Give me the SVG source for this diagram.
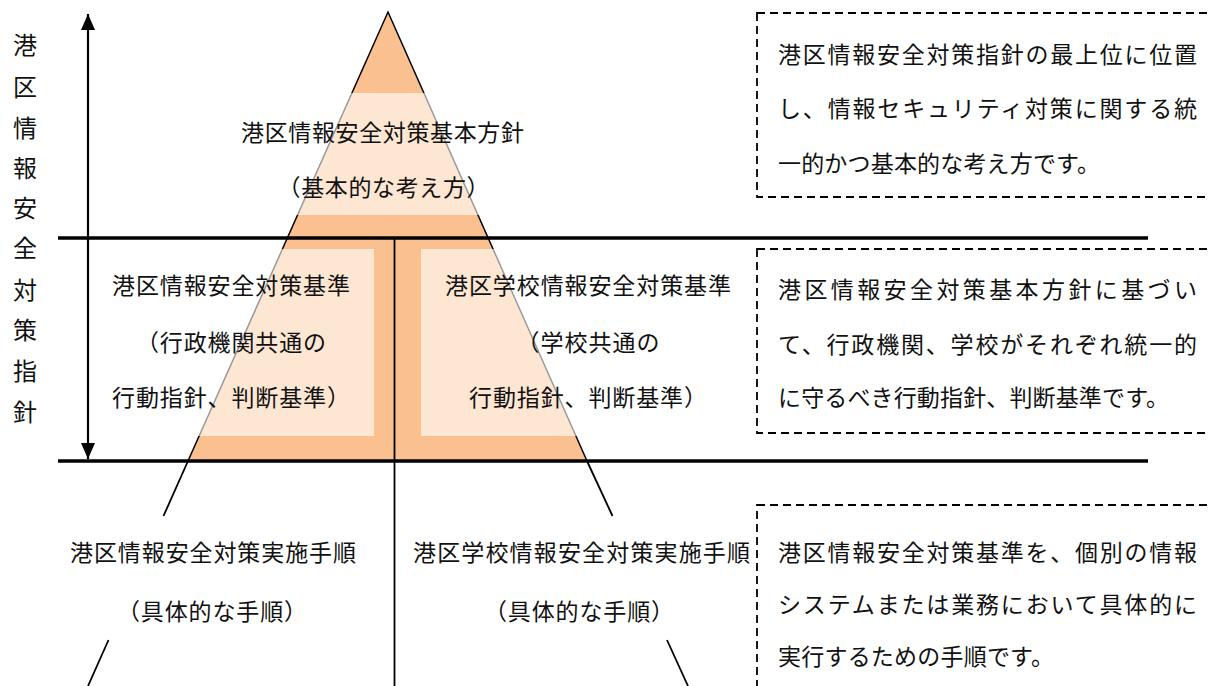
<svg xmlns="http://www.w3.org/2000/svg" width="1210" height="686" viewBox="0 0 1210 686">
<defs>
<style>
text{font-family:"Noto Sans CJK JP","Noto Sans CJK SC",sans-serif;font-size:23px;fill:#111;}
.vt{text-anchor:middle;font-size:24px;}
.band{fill:#FFFFFF;fill-opacity:0.6;}
.rule{stroke:#000;stroke-width:3.5;fill:none;}
.thin{stroke:#000;stroke-width:1.8;fill:none;}
.dash{stroke:#000;stroke-width:1.8;fill:none;stroke-dasharray:8 5;}
</style>
<marker id="ah" viewBox="0 0 16 14" refX="16" refY="7" markerWidth="16" markerHeight="14" markerUnits="userSpaceOnUse" orient="auto-start-reverse">
<path d="M0,0 L16,7 L0,14 Z" fill="#000"/>
</marker>
</defs>
<rect width="1210" height="686" fill="#fff"/>

<g id="pyramid">
<polygon points="388,12 188,461 587,461" fill="#FAC090" stroke="#000" stroke-width="1.5"/>
<rect class="band" x="180" y="93" width="420" height="122"/>
<rect class="band" x="160" y="249" width="214" height="187"/>
<rect class="band" x="421" y="249" width="190" height="187"/>
</g>

<g id="connectors">
<line x1="88" y1="14" x2="88" y2="459" stroke="#000" stroke-width="2.2" marker-start="url(#ah)" marker-end="url(#ah)"/>
<line class="rule" x1="58" y1="238" x2="1148" y2="238"/>
<line class="rule" x1="58" y1="461" x2="1148" y2="461"/>
<line class="thin" x1="394.5" y1="238" x2="394.5" y2="686"/>
<line class="thin" x1="188" y1="461" x2="163.5" y2="516"/>
<line class="thin" x1="108.5" y1="640" x2="88" y2="686"/>
<line class="thin" x1="587" y1="461" x2="612.5" y2="516"/>
<line class="thin" x1="667" y1="640" x2="688" y2="686"/>
</g>

<g id="side-label">
<text class="vt" x="25" y="54">港</text>
<text class="vt" x="25" y="96">区</text>
<text class="vt" x="25" y="137">情</text>
<text class="vt" x="25" y="177">報</text>
<text class="vt" x="25" y="217">安</text>
<text class="vt" x="25" y="257">全</text>
<text class="vt" x="25" y="299">対</text>
<text class="vt" x="25" y="339">策</text>
<text class="vt" x="25" y="380">指</text>
<text class="vt" x="25" y="421">針</text>
</g>

<g id="node-basic-policy">
<text x="241" y="141" textLength="283" lengthAdjust="spacing">港区情報安全対策基本方針</text>
<text x="277.5" y="196" textLength="212" lengthAdjust="spacing">（基本的な考え方）</text>
</g>

<g id="node-standard-admin">
<text x="112" y="294" textLength="238" lengthAdjust="spacing">港区情報安全対策基準</text>
<text x="136" y="351" textLength="190" lengthAdjust="spacing">（行政機関共通の</text>
<text x="112" y="406" textLength="238" lengthAdjust="spacing">行動指針、判断基準）</text>
</g>

<g id="node-standard-school">
<text x="445" y="294" textLength="286" lengthAdjust="spacing">港区学校情報安全対策基準</text>
<text x="516.5" y="351" textLength="143" lengthAdjust="spacing">（学校共通の</text>
<text x="469" y="406" textLength="238" lengthAdjust="spacing">行動指針、判断基準）</text>
</g>

<g id="node-procedure-admin">
<text x="70" y="561" textLength="286" lengthAdjust="spacing">港区情報安全対策実施手順</text>
<text x="117" y="620" textLength="190" lengthAdjust="spacing">（具体的な手順）</text>
</g>

<g id="node-procedure-school">
<text x="413" y="561" textLength="337" lengthAdjust="spacing">港区学校情報安全対策実施手順</text>
<text x="484" y="620" textLength="190" lengthAdjust="spacing">（具体的な手順）</text>
</g>

<g id="note-policy">
<rect class="dash" x="757" y="13" width="470" height="184"/>
<text x="778" y="63" textLength="419" lengthAdjust="spacing">港区情報安全対策指針の最上位に位置</text>
<text x="778" y="117" textLength="419" lengthAdjust="spacing">し、情報セキュリティ対策に関する統</text>
<text x="778" y="172" textLength="322" lengthAdjust="spacing">一的かつ基本的な考え方です。</text>
</g>

<g id="note-standard">
<rect class="dash" x="757" y="249" width="470" height="184"/>
<text x="778" y="298" textLength="419" lengthAdjust="spacing">港区情報安全対策基本方針に基づい</text>
<text x="778" y="353" textLength="419" lengthAdjust="spacing">て、行政機関、学校がそれぞれ統一的</text>
<text x="778" y="406" textLength="391" lengthAdjust="spacing">に守るべき行動指針、判断基準です。</text>
</g>

<g id="note-procedure">
<rect class="dash" x="757" y="505" width="470" height="200"/>
<text x="778" y="561" textLength="419" lengthAdjust="spacing">港区情報安全対策基準を、個別の情報</text>
<text x="778" y="613" textLength="419" lengthAdjust="spacing">システムまたは業務において具体的に</text>
<text x="778" y="665" textLength="276" lengthAdjust="spacing">実行するための手順です。</text>
</g>
</svg>
